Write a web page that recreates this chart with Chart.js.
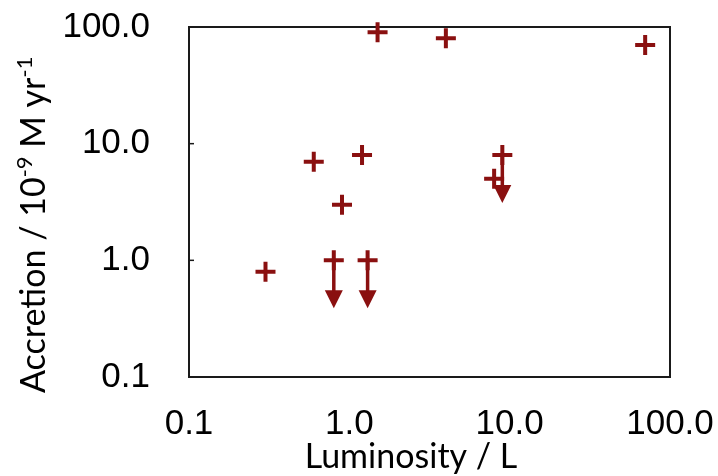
<!DOCTYPE html>
<html>
<head>
<meta charset="utf-8">
<title>Accretion vs Luminosity</title>
<script src="https://cdn.jsdelivr.net/npm/chart.js@4/dist/chart.umd.min.js"></script>
<style>
    html, body { margin: 0; padding: 0; background: #fff; }
</style>
</head>
<body>
<canvas id="grafico" width="718" height="476"></canvas>
<script>
// Dados: luminosidade e taxa de acreção (detecções)
const lumValues = [0.3, 0.6, 0.9, 1.2, 1.5, 4, 8, 70];
const accValues = [0.8, 7, 3, 8, 90, 80, 5, 70];

// Limites superiores (desenhados com seta para baixo)
const limitLum = [0.8, 1.3, 9];
const limitAcc = [1, 1, 8];

// Ticks em décadas nos dois eixos
const decadeTicks = [0.1, 1, 10, 100];

const red = '#8a1010';
const tickFont = { family: '"Liberation Sans", Arial, sans-serif', size: 35 };
const titleFamily = 'Lato, "Open Sans", sans-serif';

const toPoints = (xs, ys) => xs.map((x, i) => ({ x: x, y: ys[i] }));

// Moldura preta e pequenos ticks internos no eixo y
const framePlugin = {
    id: 'frame',
    beforeDatasetsDraw(chart) {
        const { ctx, chartArea: a, scales } = chart;
        ctx.save();
        ctx.strokeStyle = '#1a1a1a';
        ctx.lineWidth = 2;
        ctx.strokeRect(a.left, a.top, a.right - a.left, a.bottom - a.top);
        ctx.lineWidth = 1.5;
        decadeTicks.forEach(v => {
            const y = scales.y.getPixelForValue(v);
            ctx.beginPath();
            ctx.moveTo(a.left, y);
            ctx.lineTo(a.left + 5, y);
            ctx.stroke();
        });
        ctx.restore();
    }
};

// Setas para baixo nos limites superiores
const arrowPlugin = {
    id: 'arrows',
    afterDatasetsDraw(chart) {
        const { ctx } = chart;
        const meta = chart.getDatasetMeta(1);
        const len = 48, headH = 18, headW = 18;
        ctx.save();
        ctx.strokeStyle = red;
        ctx.fillStyle = red;
        ctx.lineWidth = 3.5;
        meta.data.forEach(pt => {
            ctx.beginPath();
            ctx.moveTo(pt.x, pt.y);
            ctx.lineTo(pt.x, pt.y + len - headH + 2);
            ctx.stroke();
            ctx.beginPath();
            ctx.moveTo(pt.x - headW / 2, pt.y + len - headH);
            ctx.lineTo(pt.x + headW / 2, pt.y + len - headH);
            ctx.lineTo(pt.x, pt.y + len);
            ctx.closePath();
            ctx.fill();
        });
        ctx.restore();
    }
};

// Títulos dos eixos (com sobrescritos no eixo y)
const titlesPlugin = {
    id: 'axisTitles',
    afterDraw(chart) {
        const { ctx } = chart;
        ctx.save();
        ctx.fillStyle = '#000';
        ctx.textBaseline = 'alphabetic';

        ctx.font = '34px ' + titleFamily;
        ctx.textAlign = 'center';
        ctx.fillText('Luminosity / L', 411, 468);

        ctx.translate(45, 393);
        ctx.rotate(-Math.PI / 2);
        ctx.textAlign = 'left';
        const parts = [
            ['Accretion / 10', false],
            ['-9', true],
            [' M yr', false],
            ['-1', true]
        ];
        let x = 0;
        parts.forEach(([txt, sup]) => {
            ctx.font = (sup ? 22 : 34) + 'px ' + titleFamily;
            ctx.fillText(txt, x, sup ? -13 : 0);
            x += ctx.measureText(txt).width;
        });
        ctx.restore();
    }
};

const decadeOnly = scale => {
    scale.ticks = decadeTicks.map(v => ({ value: v }));
};

new Chart(document.getElementById('grafico'), {
    type: 'scatter',
    data: {
        datasets: [{
            label: 'Detecções',
            data: toPoints(lumValues, accValues),
            pointStyle: 'cross',
            pointRadius: 10,
            pointHoverRadius: 10,
            borderColor: red,
            borderWidth: 4,
            clip: false
        }, {
            label: 'Limites superiores',
            data: toPoints(limitLum, limitAcc),
            pointStyle: 'cross',
            pointRadius: 10,
            pointHoverRadius: 10,
            borderColor: red,
            borderWidth: 4,
            clip: false
        }]
    },
    options: {
        responsive: false,
        animation: false,
        devicePixelRatio: 1,
        layout: { padding: { top: 27, right: 48, left: 0, bottom: 0 } },
        plugins: {
            legend: { display: false },
            tooltip: { enabled: false }
        },
        scales: {
            x: {
                type: 'logarithmic',
                min: 0.1,
                max: 100,
                afterBuildTicks: decadeOnly,
                afterFit: scale => {
                    scale.height = 99;
                    scale.paddingLeft = 0;
                    scale.paddingRight = 0;
                },
                grid: { display: false, drawTicks: false },
                border: { display: false },
                ticks: {
                    color: '#000',
                    font: tickFont,
                    padding: 26,
                    maxRotation: 0,
                    autoSkip: false,
                    callback: v => Number(v).toFixed(1)
                }
            },
            y: {
                type: 'logarithmic',
                min: 0.1,
                max: 100,
                afterBuildTicks: decadeOnly,
                afterFit: scale => {
                    scale.width = 189;
                    scale.paddingTop = 0;
                    scale.paddingBottom = 0;
                },
                grid: { display: false, drawTicks: false },
                border: { display: false },
                ticks: {
                    color: '#000',
                    font: tickFont,
                    padding: 39,
                    autoSkip: false,
                    callback: v => Number(v).toFixed(1)
                }
            }
        }
    },
    plugins: [framePlugin, arrowPlugin, titlesPlugin]
});
</script>
</body>
</html>
